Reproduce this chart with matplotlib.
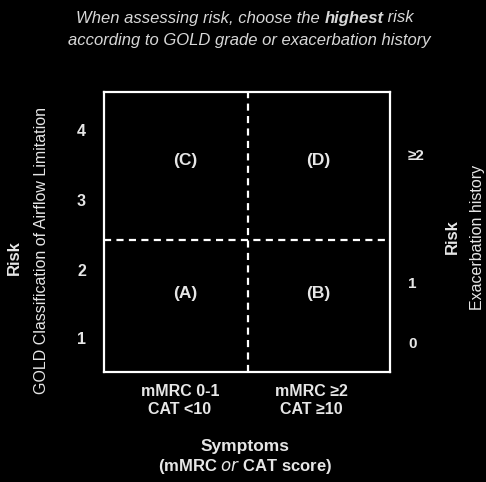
import matplotlib
matplotlib.use("Agg")
import matplotlib.pyplot as plt

# ---- data ----
quadrant_labels = ["(C)", "(D)", "(A)", "(B)"]
quadrant_x = [0.283, 0.748, 0.283, 0.748]
quadrant_y = [0.757, 0.757, 0.282, 0.282]
gold_ticks = [1, 2, 3, 4]
gold_pos = [0.121, 0.364, 0.614, 0.864]
exac_ticks = ["0", "1", "\u22652"]
exac_pos = [0.107, 0.318, 0.775]
symptom_cats = ["mMRC 0-1\nCAT <10", "mMRC \u22652\nCAT \u226510"]
symptom_pos = [0.265, 0.725]
split_x = 0.503
split_y = 0.471

FG = "#e6e6e6"
plt.rcParams['font.family'] = ['Liberation Sans', 'DejaVu Sans']

fig = plt.figure(figsize=(4.86, 4.82), dpi=100, facecolor="black")
W, H = 486, 482
ax = fig.add_axes([104/W, 1-372/H, 286/W, 280/H])
ax.set_facecolor("black")
ax.set_xlim(0, 1)
ax.set_ylim(0, 1)
for s in ax.spines.values():
    s.set_color("white")
    s.set_linewidth(1.6)

ax.axvline(split_x, color="white", lw=1.6, ls=(0, (3.2, 2.4)))
ax.axhline(split_y, color="white", lw=1.6, ls=(0, (3.2, 2.4)))

for lab, x, y in zip(quadrant_labels, quadrant_x, quadrant_y):
    ax.text(x, y, lab, color=FG, fontsize=12.5, fontweight="bold",
            ha="center", va="center")

ax.set_yticks(gold_pos)
ax.set_yticklabels([str(t) for t in gold_ticks], color=FG, fontsize=11.5, fontweight="bold")
ax.tick_params(axis="y", length=0, pad=13)
ax.set_xticks(symptom_pos)
ax.set_xticklabels(symptom_cats, color=FG, fontsize=11.5, fontweight="bold", linespacing=1.2)
ax.tick_params(axis="x", length=0, pad=9)

ax2 = ax.twinx()
ax2.set_ylim(0, 1)
ax2.set_yticks(exac_pos)
ax2.set_yticklabels(exac_ticks, color=FG, fontsize=11, fontweight="bold")
ax2.tick_params(axis="y", length=0, pad=13)
for s in ax2.spines.values():
    s.set_visible(False)

# axis titles
fig.text(14/W, 1-258/H, "Risk", rotation=90, color=FG, fontsize=12, fontweight="bold",
         ha="center", va="center")
fig.text(42/W, 1-250/H, "GOLD Classification of Airflow Limitation", rotation=90,
         color=FG, fontsize=11.5, ha="center", va="center")
fig.text(452/W, 1-237/H, "Risk", rotation=90, color=FG, fontsize=12, fontweight="bold",
         ha="center", va="center")
fig.text(477/W, 1-237/H, "Exacerbation history", rotation=90, color=FG, fontsize=11.5,
         ha="center", va="center")
fig.text(245/W, 1-447/H, "Symptoms", color=FG, fontsize=12.5, fontweight="bold",
         ha="center", va="center")
fig.text(245/W, 1-467/H, "(mMRC $\\it{or}$ CAT score)", color=FG, fontsize=12,
         fontweight="bold", ha="center", va="center")

# title with mixed bold
fig.canvas.draw()
r = fig.canvas.get_renderer()
parts = [("When assessing risk, choose the ", "normal"), ("highest", "bold"), (" risk", "normal")]
objs = []
for t, w in parts:
    objs.append(fig.text(0, 1-18/H, t, color="#d8d8d8", fontsize=12, style="italic",
                         fontweight=w, ha="left", va="center"))
widths = [o.get_window_extent(r).width for o in objs]
total = sum(widths)
x = 245 - total/2
for o, w in zip(objs, widths):
    o.set_x(x/W)
    x += w
fig.text(249/W, 1-40/H, "according to GOLD grade or exacerbation history", color="#d8d8d8",
         fontsize=12, style="italic", ha="center", va="center")

fig.savefig("out.png", dpi=100, facecolor="black")
